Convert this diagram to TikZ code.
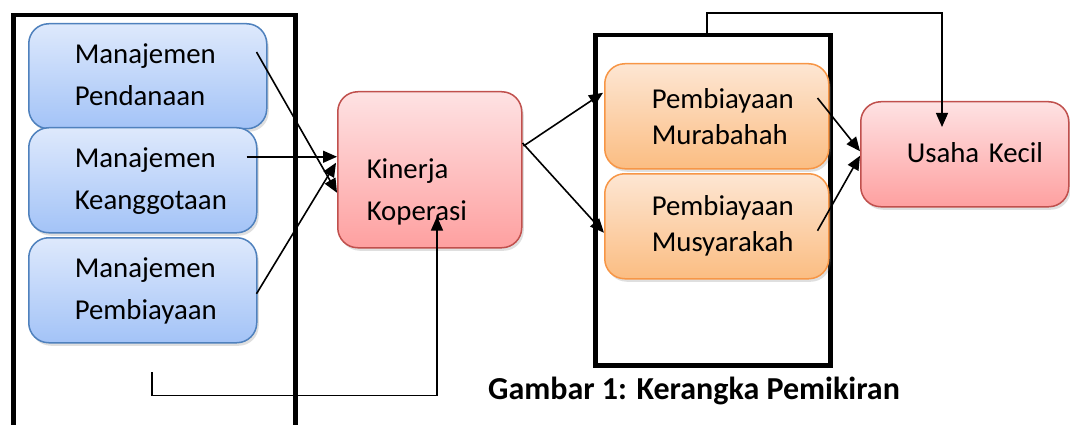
\documentclass[tikz,border=0pt]{standalone}
\usepackage{fontspec}
\setmainfont{Carlito}
\usetikzlibrary{arrows.meta,shadows,calc}
\definecolor{blueTop}{HTML}{DEE9FC}
\definecolor{blueBot}{HTML}{A3C3F7}
\definecolor{blueLine}{HTML}{4F81BD}
\definecolor{pinkTop}{HTML}{FEE2E3}
\definecolor{pinkBot}{HTML}{FEA0A0}
\definecolor{pinkLine}{HTML}{C0504D}
\definecolor{orTop}{HTML}{FDE6D3}
\definecolor{orBot}{HTML}{FBBD82}
\definecolor{orLine}{HTML}{F79646}
\begin{document}
\begin{tikzpicture}[x=1pt,y=-1pt,
  box/.style={rectangle, rounded corners=20pt, line width=1.5pt, anchor=north west, align=left,
    inner ysep=0pt, drop shadow={shadow xshift=2pt,shadow yshift=-3pt,opacity=0.25},
    execute at begin node=\strut, execute at end node=\strut},
  bluebox/.style={box, draw=blueLine, top color=blueTop, bottom color=blueBot,
    font=\fontsize{28.8}{42}\selectfont, inner xsep=46pt, minimum height=105pt},
  pinkbox/.style={box, draw=pinkLine, top color=pinkTop, bottom color=pinkBot,
    font=\fontsize{28.8}{42}\selectfont},
  orbox/.style={box, draw=orLine, top color=orTop, bottom color=orBot,
    font=\fontsize{28.8}{36}\selectfont, inner xsep=47pt, minimum width=224pt, text width=130pt, minimum height=105pt},
  frame/.style={draw, line width=4.5pt, anchor=north west, inner sep=0pt},
  arr/.style={-{Triangle[length=14pt,width=12pt]}, line width=1.6pt},
  thinarr/.style={-{Triangle[length=14pt,width=12pt]}, line width=1.3pt}]
\useasboundingbox (0,0) rectangle (1070,425);
% frames
\node[frame, minimum width=282pt, minimum height=440pt] (lf) at (11,13) {};
\node[frame, minimum width=235pt, minimum height=330pt] (rf) at (593,33) {};
% left boxes
\node[bluebox, minimum width=238pt, text width=146pt] (pd) at (28,23) {Manajemen\\Pendanaan};
\node[bluebox, minimum width=228pt, text width=136pt] (kg) at (28,127) {Manajemen\\Keanggotaan};
\node[bluebox, minimum width=228pt, text width=136pt] (pb) at (28,237) {Manajemen\\Pembiayaan};
% centre
\node[pinkbox, inner xsep=29pt, minimum width=184pt, text width=126pt, minimum height=156pt] (kin) at (337,91) {\mbox{}\\Kinerja\\Koperasi};
% right
\node[orbox] (mu) at (604,63) {\raisebox{-3pt}{Pembiayaan}\\\raisebox{-3pt}{Murabahah}};
\node[orbox] (ms) at (604,173) {Pembiayaan\\Musyarakah};
\node[pinkbox, inner xsep=46pt, minimum width=208pt, text width=116pt, minimum height=105pt] (uk) at (860,101) {\mbox{Usaha Kecil}};
% caption
\node[font=\fontsize{32}{38}\selectfont\bfseries, anchor=base west, inner sep=0pt] (cap) at (488,399) {Gambar 1: Kerangka Pemikiran};
% connectors
\draw[arr] ($(pd.north east)+(-11,29)$) -- ($(kin.west)+(0,23)$);
\draw[arr] ($(kg.east)+(-11,-23.5)$) -- ($(kin.west)+(0,-13)$);
\draw[arr] ($(pb.east)+(-1,3.5)$) -- ($(kin.west)+(-1,-7)$);
\draw[arr] ($(kin.north east)+(1,55)$) -- ($(mu.west)+(-1,-23.5)$);
\draw[arr] ($(kin.north east)+(0,52)$) -- ($(ms.west)+(0,6.5)$);
\draw[arr] ($(mu.north east)+(-12,35)$) -- ($(uk.west)+(0,-3)$);
\draw[arr] ($(ms.east)+(-12,4.5)$) -- ($(uk.west)+(0,1.5)$);
\coordinate (fb) at (152,372);
\draw[thinarr] (fb) |- ($(kin.south west)+(100,147)$) -- ($(kin.south west)+(100,-32)$);
\draw[thinarr] ($(rf.north west)+(114,0)$) -- ++(0,-20) -| ($(uk.north west)+(82,26)$);
\end{tikzpicture}
\end{document}
